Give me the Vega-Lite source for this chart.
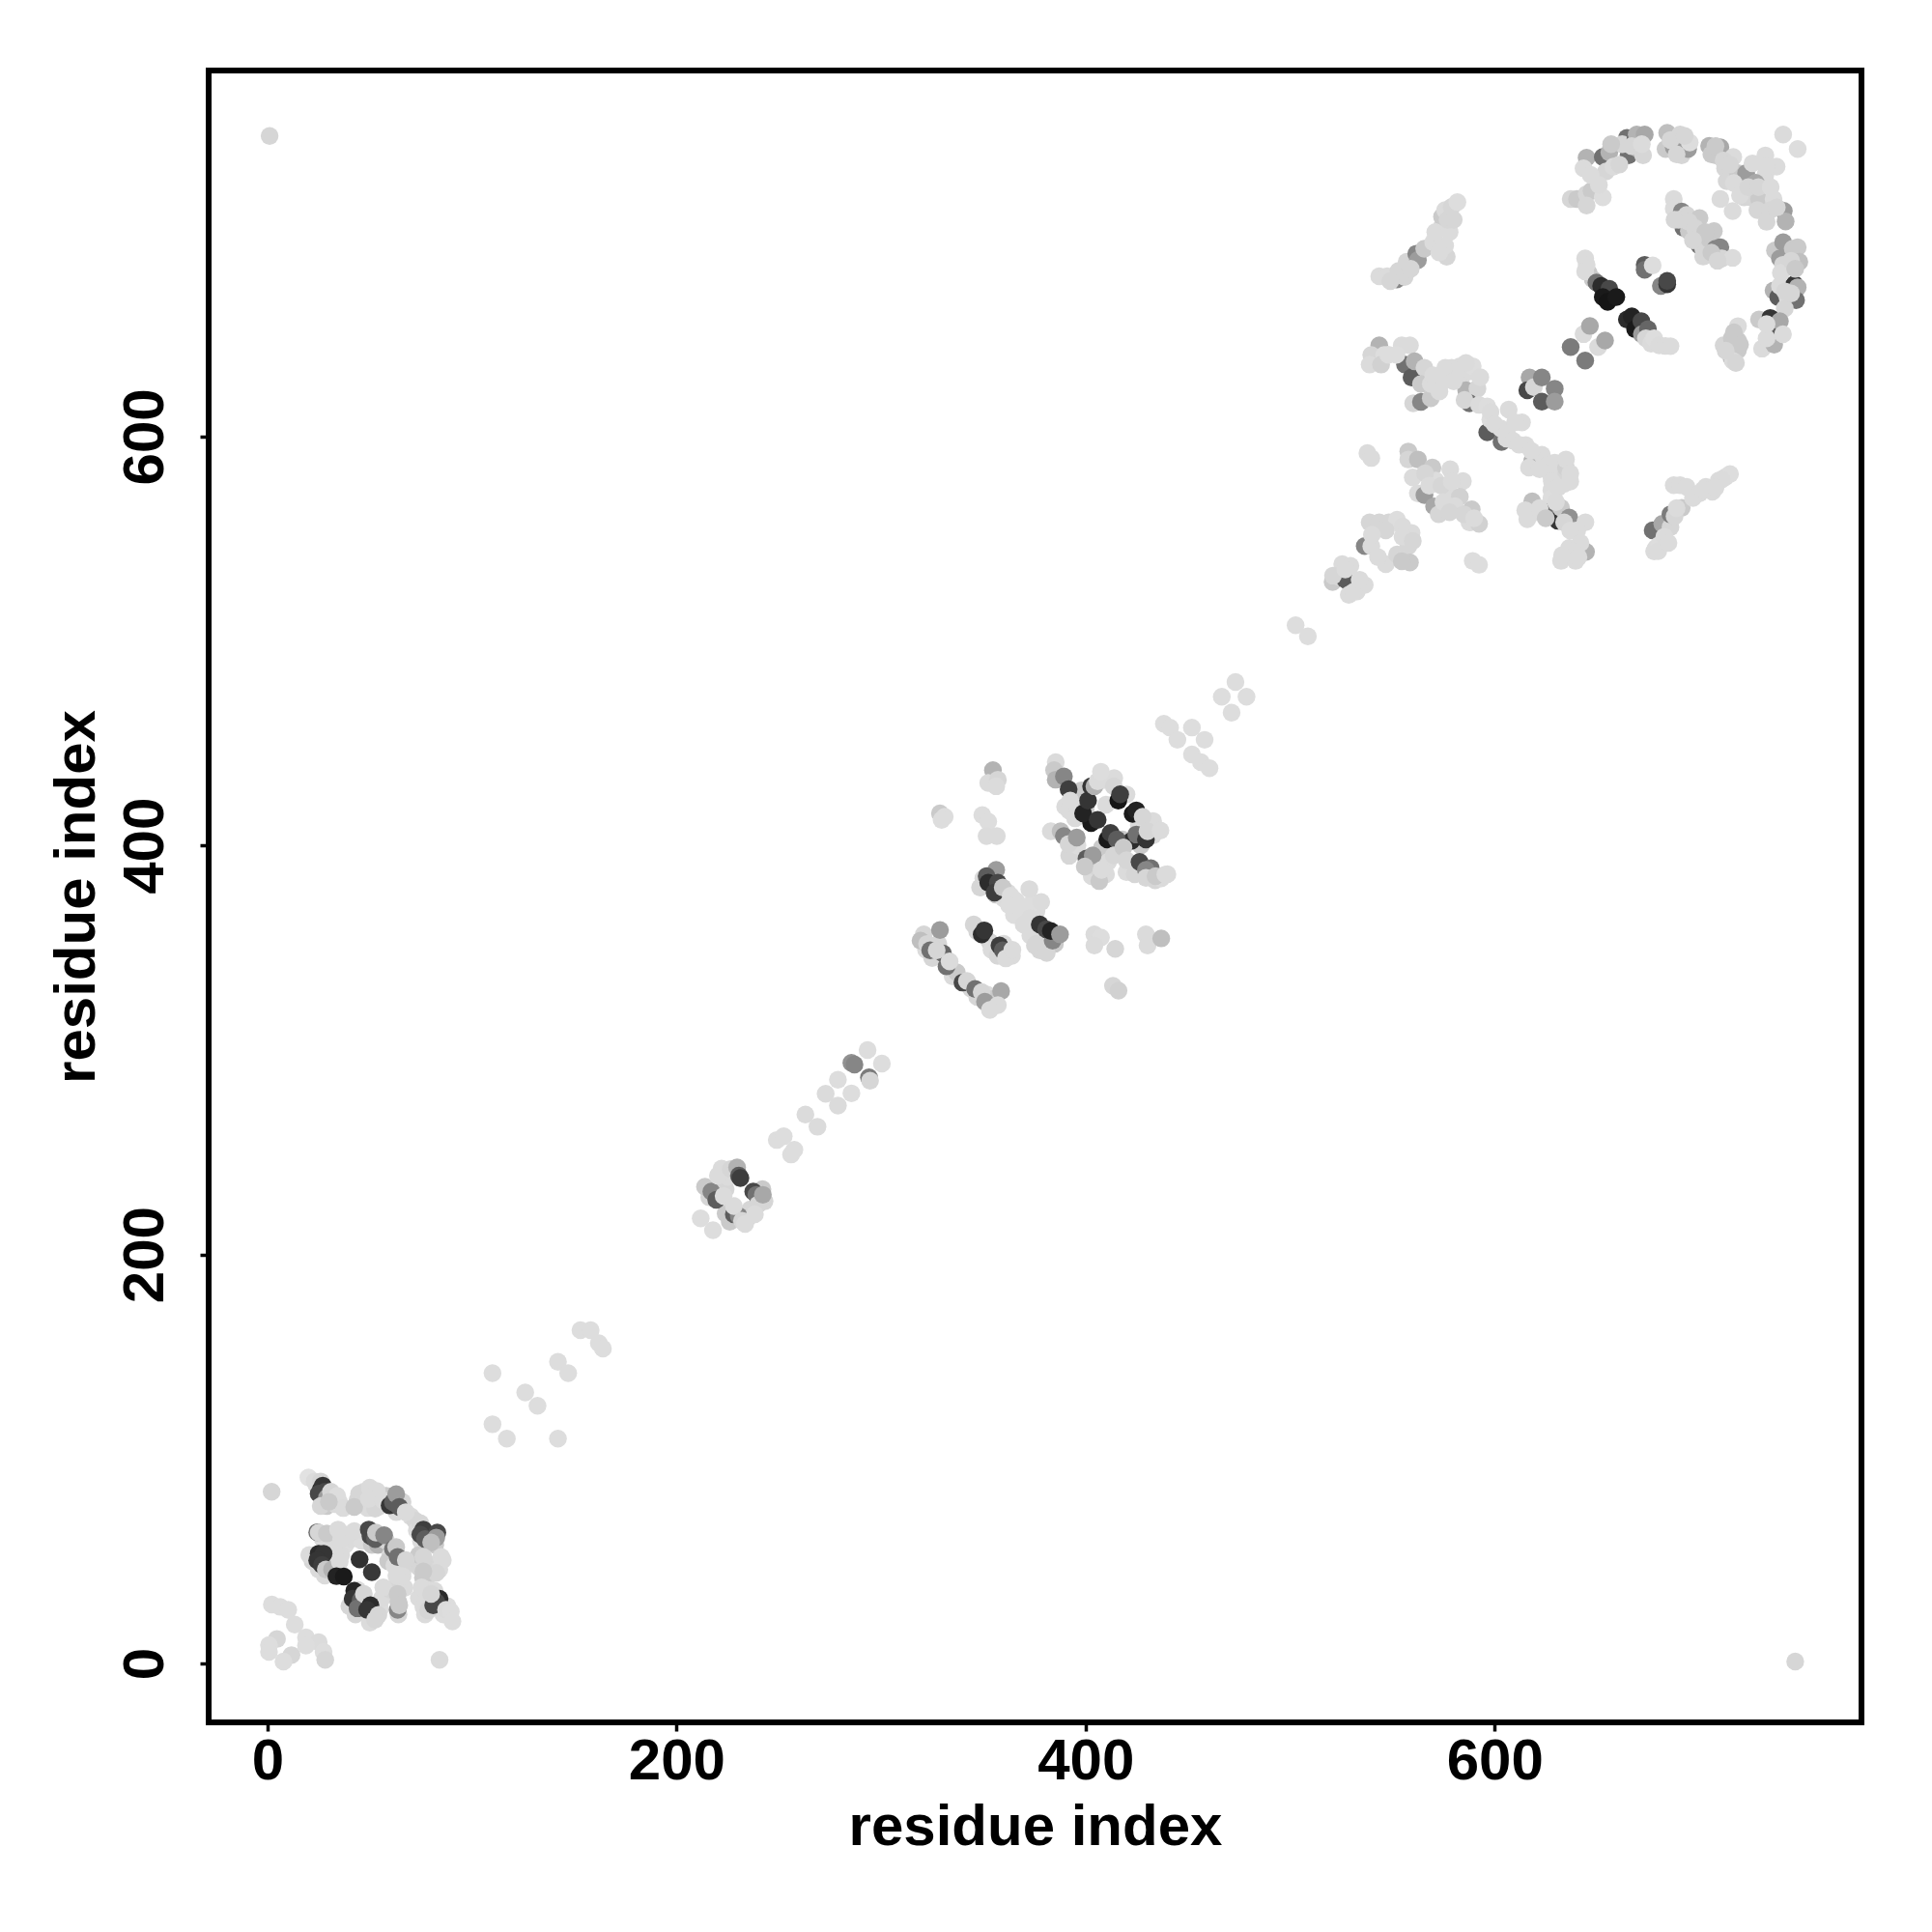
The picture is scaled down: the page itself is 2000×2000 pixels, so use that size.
{"$schema":"https://vega.github.io/schema/vega-lite/v6.json","autosize":{"type":"none"},"padding":{"left":216,"top":73,"right":73,"bottom":217},"width":1711,"height":1710,"background":"white","config":{"view":{"stroke":"#000000","strokeWidth":6},"font":"Liberation Sans"},
"data":{"values":[
{"x":24,"y":87,"p":0.03},{"x":28,"y":85,"p":0.05},{"x":30,"y":84,"p":0.1},{"x":27,"y":80,"p":0.1},{"x":29,"y":77,"p":0.1},{"x":32,"y":80,"p":0.03},{"x":33,"y":78,"p":0.03},{"x":35,"y":79,"p":0.02},
{"x":46,"y":79,"p":0.1},{"x":44,"y":80,"p":0.05},{"x":47,"y":84,"p":0.03},{"x":52,"y":80,"p":0.03},{"x":49,"y":76,"p":0.03},{"x":55,"y":77,"p":0.03},{"x":58,"y":82,"p":0.1},{"x":61,"y":77,"p":0.1},{"x":66,"y":79,"p":0.05},{"x":63,"y":74,"p":0.03},{"x":70,"y":72,"p":0.03},{"x":72,"y":70,"p":0.05},
{"x":73,"y":65,"p":0.03},{"x":75,"y":60,"p":0.03},{"x":78,"y":63,"p":0.1},{"x":79,"y":61,"p":0.05},{"x":76,"y":57,"p":0.03},{"x":82,"y":58,"p":0.1},
{"x":27,"y":61,"p":0.03},{"x":32,"y":58,"p":0.03},{"x":35,"y":62,"p":0.03},{"x":38,"y":58,"p":0.02},{"x":41,"y":61,"p":0.03},{"x":47,"y":64,"p":0.03},{"x":46,"y":60,"p":0.02},{"x":51,"y":58,"p":0.1},{"x":54,"y":58,"p":0.2},{"x":58,"y":60,"p":0.05},{"x":60,"y":53,"p":0.05},{"x":59,"y":50,"p":0.1},{"x":65,"y":47,"p":0.03},{"x":66,"y":45,"p":0.05},{"x":62,"y":48,"p":0.03},
{"x":22,"y":50,"p":0.05},{"x":25,"y":46,"p":0.03},{"x":28,"y":43,"p":0.03},{"x":30,"y":50,"p":0.03},{"x":33,"y":47,"p":0.02},{"x":36,"y":53,"p":0.03},{"x":44,"y":36,"p":0.03},{"x":40,"y":28,"p":0.05},{"x":43,"y":24,"p":0.05},{"x":47,"y":29,"p":0.05},{"x":51,"y":25,"p":0.03},{"x":55,"y":27,"p":0.02},{"x":50,"y":20,"p":0.03},{"x":56,"y":32,"p":0.03},{"x":60,"y":36,"p":0.05},{"x":67,"y":37,"p":0.03},{"x":64,"y":30,"p":0.1},{"x":64,"y":24,"p":0.05},
{"x":74,"y":47,"p":0.05},{"x":78,"y":49,"p":0.05},{"x":80,"y":44,"p":0.05},{"x":84,"y":46,"p":0.03},{"x":76,"y":42,"p":0.1},{"x":74,"y":32,"p":0.03},{"x":78,"y":36,"p":0.03},{"x":80,"y":30,"p":0.05},{"x":77,"y":24,"p":0.03},{"x":86,"y":24,"p":0.02},{"x":88,"y":28,"p":0.02},{"x":74,"y":53,"p":0.1},
{"x":221,"y":232,"p":0.1},{"x":216,"y":228,"p":0.05},{"x":224,"y":232,"p":0.05},{"x":225,"y":238,"p":0.03},{"x":222,"y":242,"p":0.03},{"x":236,"y":222,"p":0.05},{"x":243,"y":226,"p":0.05},{"x":235,"y":218,"p":0.05},{"x":226,"y":216,"p":0.1},{"x":224,"y":220,"p":0.1},{"x":242,"y":232,"p":0.1},
{"x":322,"y":349,"p":0.03},{"x":325,"y":345,"p":0.05},{"x":328,"y":352,"p":0.05},{"x":335,"y":336,"p":0.03},{"x":337,"y":338,"p":0.1},{"x":344,"y":330,"p":0.05},{"x":347,"y":326,"p":0.05},{"x":352,"y":327,"p":0.03},{"x":355,"y":325,"p":0.1},
{"x":347,"y":358,"p":0.05},{"x":353,"y":353,"p":0.05},{"x":354,"y":349,"p":0.03},{"x":357,"y":346,"p":0.05},{"x":360,"y":352,"p":0.03},{"x":364,"y":346,"p":0.03},
{"x":350,"y":384,"p":0.03},{"x":354,"y":383,"p":0.1},{"x":356,"y":376,"p":0.1},{"x":360,"y":374,"p":0.03},{"x":362,"y":377,"p":0.03},{"x":366,"y":373,"p":0.02},{"x":367,"y":368,"p":0.02},{"x":365,"y":366,"p":0.02},{"x":376,"y":368,"p":0.03},{"x":370,"y":370,"p":0.02},{"x":374,"y":372,"p":0.02},{"x":378,"y":356,"p":0.03},{"x":381,"y":353,"p":0.03},{"x":385,"y":352,"p":0.1},{"x":373,"y":356,"p":0.03},{"x":376,"y":352,"p":0.05},
{"x":390,"y":419,"p":0.03},{"x":392,"y":417,"p":0.03},{"x":398,"y":427,"p":0.1},{"x":400,"y":418,"p":0.1},{"x":410,"y":420,"p":0.03},{"x":409,"y":432,"p":0.03},{"x":414,"y":433,"p":0.03},{"x":420,"y":425,"p":0.03},{"x":426,"y":410,"p":0.03},{"x":433,"y":412,"p":0.03},{"x":433,"y":405,"p":0.03},{"x":427,"y":400,"p":0.1},{"x":418,"y":403,"p":0.1},{"x":416,"y":397,"p":0.03},{"x":408,"y":399,"p":0.1},{"x":411,"y":392,"p":0.03},{"x":420,"y":387,"p":0.03},{"x":424,"y":386,"p":0.05},{"x":392,"y":395,"p":0.05},{"x":396,"y":400,"p":0.03},{"x":403,"y":385,"p":0.03},{"x":404,"y":390,"p":0.05},{"x":410,"y":386,"p":0.03},{"x":434,"y":383,"p":0.05},{"x":437,"y":384,"p":0.03},{"x":440,"y":386,"p":0.03},
{"x":1,"y":747,"p":0.05},{"x":747,"y":1,"p":0.05},{"x":2,"y":84,"p":0.05},
{"x":20,"y":91,"p":0},{"x":23,"y":89,"p":0.03},{"x":26,"y":89,"p":0.05},{"x":26,"y":85,"p":0.85},{"x":27,"y":87,"p":0.8},{"x":25,"y":83,"p":0.7},{"x":28,"y":84,"p":0.7},{"x":29,"y":81,"p":0.3},{"x":26,"y":77,"p":0.05},{"x":31,"y":84,"p":0.05},{"x":34,"y":82,"p":0.02},{"x":37,"y":76,"p":0.03},{"x":30,"y":79,"p":0.1},
{"x":44.8,"y":83,"p":0.05},{"x":42.4,"y":76.5,"p":0.1},{"x":50,"y":86,"p":0.03},{"x":53.4,"y":84.4,"p":0.03},{"x":52.6,"y":75.7,"p":0.05},{"x":49.5,"y":80.5,"p":0.03},{"x":56.6,"y":79.7,"p":0.03},
{"x":59.7,"y":77.3,"p":0.8},{"x":61.3,"y":78.9,"p":0.6},{"x":62.9,"y":82.8,"p":0.3},{"x":64.4,"y":76.5,"p":0.6},{"x":67.6,"y":74,"p":0.03},{"x":74.7,"y":68.6,"p":0.05},
{"x":76.2,"y":65.5,"p":0.75},{"x":74.7,"y":63.1,"p":0.7},{"x":77,"y":60.8,"p":0.6},{"x":83,"y":64,"p":0.7},{"x":82.5,"y":61.6,"p":0.3},{"x":80,"y":59.2,"p":0.15},
{"x":24.3,"y":64.2,"p":0.5},{"x":25,"y":64,"p":0.05},{"x":29,"y":63.6,"p":0.1},{"x":36,"y":60.8,"p":0.03},{"x":42.4,"y":64.7,"p":0.03},{"x":39.2,"y":63,"p":0.03},{"x":34.5,"y":65.5,"p":0.03},
{"x":49.5,"y":65.5,"p":0.7},{"x":50.3,"y":62.4,"p":0.7},{"x":52.6,"y":60.8,"p":0.6},{"x":53,"y":64,"p":0.1},{"x":57,"y":62.7,"p":0.4},{"x":61.3,"y":56,"p":0.5},{"x":62.9,"y":56.9,"p":0.1},{"x":63.6,"y":52.1,"p":0.5},{"x":67.6,"y":50.6,"p":0.05},
{"x":20.4,"y":53,"p":0.03},{"x":25,"y":53.7,"p":0.85},{"x":27.4,"y":53.7,"p":0.8},{"x":24.3,"y":50.5,"p":0.8},{"x":26.6,"y":48.2,"p":0.75},{"x":28.5,"y":46,"p":0.1},{"x":31.5,"y":46,"p":0.2},{"x":35.3,"y":49.8,"p":0.03},{"x":33.7,"y":42.7,"p":0.9},{"x":37.3,"y":42.5,"p":0.95},{"x":45,"y":50.9,"p":0.82},{"x":51,"y":44.7,"p":0.78},
{"x":42.4,"y":35.6,"p":0.9},{"x":41.6,"y":31.7,"p":0.8},{"x":45.5,"y":30.9,"p":0.6},{"x":44,"y":27,"p":0.5},{"x":47.1,"y":34,"p":0.05},{"x":50.3,"y":28.5,"p":0.85},{"x":48.7,"y":26.2,"p":0.8},{"x":54.2,"y":23.8,"p":0.05},{"x":52.6,"y":21.4,"p":0.05},
{"x":56.6,"y":37.2,"p":0.03},{"x":63.6,"y":26.2,"p":0.4},{"x":63.6,"y":34,"p":0.1},{"x":64.4,"y":28.5,"p":0.1},{"x":66,"y":42.7,"p":0.03},{"x":63,"y":43,"p":0.03},
{"x":76.2,"y":52.1,"p":0.05},{"x":84.9,"y":52.1,"p":0.03},{"x":85.7,"y":50.6,"p":0.03},{"x":82.5,"y":44.3,"p":0.05},{"x":76.2,"y":45,"p":0.1},{"x":75.4,"y":37.2,"p":0.03},{"x":81.7,"y":35.6,"p":0.03},{"x":76.2,"y":27.7,"p":0.03},{"x":78.5,"y":26,"p":0.05},
{"x":84.1,"y":31.7,"p":0.85},{"x":82.5,"y":30.1,"p":0.7},{"x":81,"y":28.5,"p":0.7},{"x":80,"y":34,"p":0.05},{"x":87.3,"y":26.2,"p":0.03},{"x":89.6,"y":25.4,"p":0.02},{"x":90.4,"y":20.6,"p":0.02},
{"x":2.1,"y":28.8,"p":0.02},{"x":6.2,"y":27.7,"p":0.02},{"x":10.1,"y":26.2,"p":0.02},{"x":13.3,"y":19,"p":0.02},{"x":18.8,"y":12.8,"p":0.02},{"x":25,"y":10.4,"p":0.03},{"x":4.6,"y":12,"p":0.05},{"x":0.7,"y":9,"p":0.02},{"x":0.7,"y":5.7,"p":0.02},{"x":11.7,"y":4.1,"p":0.05},{"x":7.8,"y":1,"p":0.02},{"x":27.4,"y":5.7,"p":0.02},{"x":28.2,"y":1.8,"p":0.05},{"x":18.8,"y":8.8,"p":0.02},{"x":84.1,"y":1.8,"p":0.03},
{"x":110,"y":142,"p":0.02},{"x":110,"y":117,"p":0.02},{"x":117,"y":110,"p":0.02},{"x":126,"y":132.5,"p":0.02},{"x":132,"y":126,"p":0.02},{"x":142,"y":147.5,"p":0.02},{"x":147,"y":142,"p":0.02},{"x":142,"y":110,"p":0.02},{"x":153,"y":163,"p":0.02},{"x":158,"y":163,"p":0.02},{"x":162,"y":156.6,"p":0.02},{"x":164,"y":154,"p":0.02},
{"x":211.8,"y":217.7,"p":0.02},{"x":217.8,"y":211.9,"p":0.02},{"x":213.9,"y":233.1,"p":0.1},{"x":217,"y":230.8,"p":0.4},{"x":219.4,"y":226.8,"p":0.6},{"x":220.2,"y":238.6,"p":0.03},{"x":223,"y":228.7,"p":0.03},{"x":226.5,"y":241.8,"p":0.05},{"x":229.6,"y":242.6,"p":0.2},{"x":230.5,"y":238.6,"p":0.6},{"x":231.2,"y":237.4,"p":0.75},{"x":237.5,"y":230.8,"p":0.7},{"x":239,"y":229.2,"p":0.5},{"x":239.8,"y":224.4,"p":0.05},{"x":242.2,"y":229.2,"p":0.25},{"x":228,"y":219.7,"p":0.6},{"x":230.4,"y":218.9,"p":0.4},{"x":228,"y":223.7,"p":0.03},{"x":232,"y":216.5,"p":0.05},{"x":233.5,"y":215,"p":0.03},{"x":238.3,"y":219.7,"p":0.03},
{"x":249,"y":256,"p":0.02},{"x":252.4,"y":257.8,"p":0.02},{"x":256,"y":248.9,"p":0.02},{"x":257.6,"y":251.2,"p":0.02},{"x":263,"y":268.5,"p":0.03},{"x":268.9,"y":262.5,"p":0.03},{"x":272.9,"y":278.6,"p":0.03},{"x":278.9,"y":272.8,"p":0.03},{"x":278.9,"y":285.5,"p":0.02},{"x":285.5,"y":278.8,"p":0.02},{"x":285.5,"y":293.7,"p":0.35},{"x":287,"y":292.9,"p":0.4},{"x":293.4,"y":300,"p":0.02},{"x":300.4,"y":293.4,"p":0.02},{"x":294.1,"y":286.6,"p":0.45},{"x":294.6,"y":285,"p":0.05},
{"x":320.9,"y":356.6,"p":0.05},{"x":328.8,"y":358.7,"p":0.3},{"x":319.3,"y":353.5,"p":0.15},{"x":322.5,"y":351.9,"p":0.05},{"x":324,"y":348.8,"p":0.5},{"x":330.3,"y":347.2,"p":0.55},{"x":327.2,"y":348.8,"p":0.05},{"x":332,"y":340.9,"p":0.5},{"x":333.5,"y":343.3,"p":0.03},{"x":339.8,"y":333,"p":0.7},{"x":342,"y":333.8,"p":0.05},{"x":346,"y":329.9,"p":0.5},{"x":349.2,"y":328.3,"p":0.05},{"x":350.8,"y":323.6,"p":0.3},{"x":358.7,"y":328.8,"p":0.25},{"x":357.1,"y":322,"p":0.03},{"x":353.2,"y":319.6,"p":0.03},
{"x":345.3,"y":361.4,"p":0.05},{"x":349.2,"y":356.6,"p":0.85},{"x":350.5,"y":358.5,"p":0.8},{"x":357.9,"y":351.1,"p":0.75},{"x":359.5,"y":348.8,"p":0.6},{"x":361,"y":344.8,"p":0.03},{"x":364.2,"y":349,"p":0.03},
{"x":348.4,"y":379.5,"p":0.05},{"x":356.3,"y":388.1,"p":0.3},{"x":351.6,"y":385,"p":0.6},{"x":352.4,"y":381.8,"p":0.85},{"x":357.1,"y":381.8,"p":0.7},{"x":355.5,"y":377,"p":0.75},{"x":359.5,"y":379.5,"p":0.1},{"x":363.4,"y":375.5,"p":0.02},{"x":362.6,"y":370.8,"p":0.02},{"x":372.5,"y":378.7,"p":0.03},{"x":378.3,"y":372.4,"p":0.03},{"x":372.8,"y":364.5,"p":0.03},{"x":369.7,"y":361.4,"p":0.03},
{"x":377.6,"y":348.8,"p":0.05},{"x":375.2,"y":351.1,"p":0.05},{"x":381,"y":347.5,"p":0.05},{"x":377.6,"y":361.4,"p":0.8},{"x":380.7,"y":359,"p":0.7},{"x":383.9,"y":353.5,"p":0.4},{"x":383,"y":358.2,"p":0.9},{"x":387.5,"y":356.6,"p":0.3},
{"x":354.7,"y":436.9,"p":0.2},{"x":352.4,"y":430.6,"p":0.03},{"x":357.1,"y":432.2,"p":0.05},{"x":356.3,"y":429,"p":0.03},{"x":328.8,"y":415.7,"p":0.1},{"x":331.1,"y":414.1,"p":0.02},{"x":329.6,"y":412.5,"p":0.02},{"x":349.5,"y":414.9,"p":0.02},{"x":352.4,"y":411.7,"p":0.02},{"x":351.6,"y":404.6,"p":0.03},{"x":356.6,"y":404.6,"p":0.03},
{"x":385.4,"y":440.8,"p":0.03},{"x":384.6,"y":436.9,"p":0.1},{"x":385.4,"y":432.2,"p":0.2},{"x":389.4,"y":433.8,"p":0.4},{"x":391.7,"y":427.5,"p":0.75},{"x":392.5,"y":422,"p":0.03},{"x":394.9,"y":413.3,"p":0.03},
{"x":402.7,"y":411,"p":0.95},{"x":398.8,"y":415.7,"p":0.9},{"x":401.2,"y":422,"p":0.8},{"x":405.9,"y":412.5,"p":0.8},{"x":402.7,"y":429,"p":0.8},{"x":404.3,"y":429,"p":0.2},{"x":405.9,"y":431.4,"p":0.03},{"x":407.5,"y":436.1,"p":0.02},
{"x":413.8,"y":429,"p":0.05},{"x":416,"y":422,"p":0.98},{"x":416.9,"y":425.1,"p":0.75},{"x":423,"y":415.5,"p":0.95},{"x":424.8,"y":417.2,"p":0.9},{"x":427.9,"y":414.1,"p":0.05},{"x":422.4,"y":402.3,"p":0.85},{"x":424.8,"y":405.4,"p":0.5},{"x":429.5,"y":403,"p":0.8},{"x":430.3,"y":407,"p":0.05},{"x":436.6,"y":407.3,"p":0.03},
{"x":410.6,"y":403,"p":0.95},{"x":412.2,"y":406.2,"p":0.75},{"x":415.3,"y":403,"p":0.6},{"x":413.8,"y":395.2,"p":0.05},{"x":418.5,"y":399.1,"p":0.1},{"x":420,"y":392.8,"p":0.05},
{"x":383,"y":407,"p":0.03},{"x":387.8,"y":407,"p":0.15},{"x":389.4,"y":404.6,"p":0.4},{"x":391.7,"y":400.7,"p":0.05},{"x":395.7,"y":403.9,"p":0.3},{"x":400.4,"y":393.6,"p":0.6},{"x":403.5,"y":395.2,"p":0.3},{"x":399.6,"y":389.7,"p":0.1},{"x":406.7,"y":382.6,"p":0.1},{"x":407.8,"y":388.1,"p":0.03},
{"x":426.4,"y":392,"p":0.7},{"x":431.9,"y":388.9,"p":0.5},{"x":429.5,"y":388.1,"p":0.4},{"x":429.5,"y":384.2,"p":0.05},{"x":434.2,"y":385,"p":0.1},{"x":439,"y":385.8,"p":0.03},
{"x":404.3,"y":356.6,"p":0.03},{"x":407.5,"y":355,"p":0.02},{"x":404.3,"y":351.1,"p":0.03},{"x":414.5,"y":349.5,"p":0.05},{"x":429.5,"y":356.6,"p":0.03},{"x":430.3,"y":351.1,"p":0.03},{"x":437,"y":354.6,"p":0.15},{"x":413.4,"y":331.4,"p":0.05},{"x":416.1,"y":329,"p":0.07},
{"x":438.3,"y":459.5,"p":0.02},{"x":441.3,"y":457.7,"p":0.02},{"x":452,"y":457.7,"p":0.02},{"x":444.9,"y":451.7,"p":0.02},{"x":458.2,"y":451.7,"p":0.02},{"x":452,"y":444.5,"p":0.02},{"x":456.4,"y":440.8,"p":0.02},{"x":460.6,"y":437.8,"p":0.02},{"x":466.6,"y":472.8,"p":0.02},{"x":473.3,"y":480,"p":0.02},{"x":471.4,"y":465,"p":0.02},{"x":478.7,"y":472.8,"p":0.02},{"x":502.7,"y":507.7,"p":0.02},{"x":508.7,"y":502.3,"p":0.02},
{"x":520.8,"y":528.9,"p":0.1},{"x":525.5,"y":537.6,"p":0.03},{"x":529.5,"y":536.8,"p":0.03},{"x":524,"y":531.3,"p":0.05},{"x":527,"y":530,"p":0.6},{"x":532.6,"y":528.2,"p":0.6},{"x":536.5,"y":527.4,"p":0.03},{"x":528.7,"y":522.6,"p":0.03},{"x":532.6,"y":524.2,"p":0.03},
{"x":538.9,"y":558,"p":0.05},{"x":543.6,"y":558,"p":0.05},{"x":548.3,"y":558,"p":0.05},{"x":552.3,"y":559.3,"p":0.02},{"x":536.5,"y":546.5,"p":0.4},{"x":539.7,"y":546.3,"p":0.03},{"x":559.4,"y":552.9,"p":0.03},{"x":546.8,"y":554.1,"p":0.05},{"x":557.8,"y":546.3,"p":0.05},{"x":558.6,"y":538.4,"p":0.1},{"x":546.8,"y":537.6,"p":0.03},{"x":552.3,"y":542.3,"p":0.05},{"x":554.6,"y":539,"p":0.1},
{"x":589.3,"y":539.2,"p":0.02},{"x":592.4,"y":537.3,"p":0.02},{"x":537.8,"y":591.9,"p":0.03},{"x":539.7,"y":589.5,"p":0.03},
{"x":557.8,"y":592.7,"p":0.1},{"x":557.8,"y":588.8,"p":0.05},{"x":562.5,"y":588.8,"p":0.15},{"x":569.6,"y":584.8,"p":0.1},{"x":578.3,"y":584,"p":0.03},{"x":584.5,"y":578.2,"p":0.03},{"x":571.2,"y":578.5,"p":0.02},{"x":562.5,"y":572.2,"p":0.03},{"x":565.7,"y":571.4,"p":0.3},{"x":570.4,"y":565.9,"p":0.25},{"x":577.5,"y":572.2,"p":0.03},{"x":583,"y":570.6,"p":0.07},{"x":572.7,"y":562,"p":0.05},{"x":580.5,"y":566,"p":0.03},{"x":588.8,"y":564.4,"p":0.1},{"x":587.7,"y":558,"p":0.03},{"x":592.4,"y":557.3,"p":0.07},
{"x":543.6,"y":644.6,"p":0.2},{"x":539.7,"y":639.9,"p":0.05},{"x":546,"y":639.9,"p":0.02},{"x":538.9,"y":635.2,"p":0.03},{"x":544.5,"y":635.2,"p":0.07},{"x":554.6,"y":644.6,"p":0.03},{"x":558.6,"y":644.6,"p":0.03},
{"x":556.2,"y":635.2,"p":0.5},{"x":559.4,"y":628.9,"p":0.6},{"x":560.9,"y":636.8,"p":0.2},{"x":565.7,"y":633.6,"p":0.05},{"x":564,"y":625.7,"p":0.1},{"x":560.2,"y":616.3,"p":0.05},{"x":564,"y":617,"p":0.4},{"x":568.8,"y":618.7,"p":0.1},{"x":568.8,"y":625.7,"p":0.03},
{"x":575.9,"y":633.6,"p":0.03},{"x":579,"y":633.6,"p":0.03},{"x":583,"y":634.4,"p":0.03},{"x":575.1,"y":627.3,"p":0.03},{"x":583.8,"y":628.9,"p":0.03},{"x":588.5,"y":632,"p":0.03},{"x":589.3,"y":634.4,"p":0.02},{"x":586.1,"y":622.6,"p":0.2},{"x":591.6,"y":623.4,"p":0.05},{"x":587.7,"y":616.3,"p":0.5},{"x":585.3,"y":617.9,"p":0.05},{"x":592.4,"y":615.5,"p":0.03},{"x":596.4,"y":614.7,"p":0.02},{"x":606.9,"y":613.2,"p":0.03},{"x":613.4,"y":606.9,"p":0.03},{"x":596.4,"y":602.1,"p":0.6},{"x":597.9,"y":608.4,"p":0.02},{"x":603.4,"y":597.4,"p":0.5},{"x":605.8,"y":599,"p":0.03},{"x":615.2,"y":595.8,"p":0.03},{"x":618.4,"y":588,"p":0.2},{"x":616.8,"y":584.8,"p":0.03},{"x":623.1,"y":591.1,"p":0.03},
{"x":629.4,"y":587.2,"p":0.03},{"x":627.8,"y":580.1,"p":0.03},{"x":627.8,"y":573.8,"p":0.03},{"x":634.1,"y":576.9,"p":0.03},{"x":634.9,"y":580.9,"p":0.05},{"x":634.9,"y":584.8,"p":0.07},{"x":634.9,"y":588.8,"p":0.03},{"x":627.8,"y":569.9,"p":0.02},
{"x":618.4,"y":568.3,"p":0.15},{"x":616,"y":559.6,"p":0.03},{"x":619.2,"y":562.8,"p":0.03},{"x":627.8,"y":563.6,"p":0.5},{"x":631,"y":558.8,"p":0.8},{"x":632.5,"y":565.1,"p":0.1},{"x":636.5,"y":560.4,"p":0.35},{"x":644.4,"y":558.1,"p":0.03},{"x":640.4,"y":554.1,"p":0.03},{"x":636.5,"y":545.5,"p":0.03},{"x":644.7,"y":543.6,"p":0.2},{"x":632.5,"y":539.2,"p":0.03},{"x":639.6,"y":539.2,"p":0.03},
{"x":617.1,"y":628.9,"p":0.25},{"x":616,"y":622.6,"p":0.7},{"x":619.2,"y":624.2,"p":0.05},{"x":623.1,"y":628.9,"p":0.4},{"x":629.4,"y":623.4,"p":0.4},{"x":623.1,"y":617.1,"p":0.6},{"x":629.4,"y":617.1,"p":0.3},
{"x":637.2,"y":643.8,"p":0.45},{"x":644.3,"y":637.2,"p":0.45},{"x":643.5,"y":650.1,"p":0.03},{"x":646.6,"y":654.1,"p":0.25},{"x":650.6,"y":643.8,"p":0.03},{"x":654,"y":647,"p":0.25},
{"x":646,"y":680,"p":0.1},{"x":648,"y":677,"p":0.1},{"x":644.3,"y":687.1,"p":0.03},{"x":645,"y":684,"p":0.03},{"x":644.3,"y":680.8,"p":0.03},{"x":649.8,"y":675.3,"p":0.5},{"x":652.1,"y":673.7,"p":0.85},{"x":656.1,"y":672.2,"p":0.7},{"x":652.9,"y":668.2,"p":0.95},{"x":655.3,"y":665.9,"p":0.98},{"x":659.5,"y":668.2,"p":0.95},{"x":664.7,"y":657.2,"p":0.85},{"x":667.1,"y":658.8,"p":0.9},{"x":668.7,"y":652.5,"p":0.95},{"x":671.8,"y":656.4,"p":0.7},{"x":672,"y":650,"p":0.3},{"x":675,"y":652.5,"p":0.55},{"x":674,"y":648,"p":0.05},{"x":676.5,"y":645.4,"p":0.03},{"x":678,"y":648,"p":0.02},{"x":680.5,"y":644.6,"p":0.03},{"x":683.5,"y":644.3,"p":0.03},{"x":686,"y":644.2,"p":0.03},
{"x":673.4,"y":684,"p":0.6},{"x":673.4,"y":681.6,"p":0.5},{"x":677.3,"y":683.7,"p":0.02},{"x":681.3,"y":673.7,"p":0.4},{"x":684.4,"y":674.5,"p":0.8},{"x":684.4,"y":676.1,"p":0.7},
{"x":645,"y":736.4,"p":0.2},{"x":643.5,"y":731.2,"p":0.03},{"x":637.2,"y":716.2,"p":0.05},{"x":640.3,"y":716.2,"p":0.1},{"x":645,"y":718.6,"p":0.05},{"x":647.4,"y":720.2,"p":0.1},{"x":645,"y":713,"p":0.05},{"x":652.9,"y":717,"p":0.02},
{"x":652.9,"y":736.7,"p":0.5},{"x":656.1,"y":739,"p":0.2},{"x":654.5,"y":729.6,"p":0.05},{"x":658.1,"y":732,"p":0.03},{"x":664.7,"y":746.1,"p":0.5},{"x":665.5,"y":737.5,"p":0.5},{"x":662.4,"y":743,"p":0.05},{"x":668.7,"y":744.6,"p":0.6},{"x":669.5,"y":747.7,"p":0.2},{"x":670.2,"y":740.6,"p":0.2},{"x":672.6,"y":737.5,"p":0.05},{"x":673.4,"y":747.7,"p":0.25},
{"x":684.4,"y":748.5,"p":0.15},{"x":683.6,"y":740.6,"p":0.1},{"x":687.6,"y":741.4,"p":0.3},{"x":690.7,"y":747.7,"p":0.05},{"x":691.5,"y":737.5,"p":0.05},{"x":694.6,"y":740.6,"p":0.3},{"x":695.4,"y":743.8,"p":0.02},
{"x":704.9,"y":742.2,"p":0.2},{"x":710.4,"y":741.4,"p":0.25},{"x":708,"y":737.5,"p":0.1},{"x":716.7,"y":736.7,"p":0.03},{"x":712.7,"y":731.2,"p":0.05},{"x":713.5,"y":724.9,"p":0.05},{"x":719,"y":728.8,"p":0.1},{"x":723,"y":728.8,"p":0.3},{"x":726.1,"y":733.6,"p":0.03},{"x":732.4,"y":737.5,"p":0.03},{"x":737.9,"y":732,"p":0.03},{"x":732.4,"y":728,"p":0.03},{"x":727.7,"y":724.1,"p":0.25},{"x":741.1,"y":747.7,"p":0.03},{"x":748.2,"y":740.6,"p":0.02},
{"x":725.3,"y":717,"p":0.05},{"x":722,"y":717,"p":0.05},{"x":729.3,"y":716.2,"p":0.1},{"x":736.4,"y":716.2,"p":0.03},{"x":728.5,"y":710.7,"p":0.05},{"x":734.8,"y":710.7,"p":0.05},{"x":741.4,"y":710.4,"p":0.3},{"x":742.3,"y":705.2,"p":0.2},{"x":710.4,"y":716.2,"p":0.03},{"x":716.4,"y":710.3,"p":0.03},
{"x":687.6,"y":716.2,"p":0.03},{"x":687.6,"y":711.5,"p":0.03},{"x":691.5,"y":710,"p":0.4},{"x":692.3,"y":702.1,"p":0.5},{"x":693.9,"y":708.4,"p":0.05},{"x":695,"y":700.5,"p":0.1},{"x":700.2,"y":706.8,"p":0.1},{"x":700.2,"y":693.4,"p":0.5},{"x":702,"y":692,"p":0.05},{"x":704.9,"y":696.6,"p":0.1},{"x":707.2,"y":700.5,"p":0.1},{"x":708,"y":691.8,"p":0.4},{"x":710.4,"y":692.6,"p":0.4},{"x":711.2,"y":687.1,"p":0.05},{"x":716.4,"y":687.4,"p":0.03},
{"x":737.1,"y":691,"p":0.1},{"x":741.1,"y":695,"p":0.3},{"x":739.5,"y":687.1,"p":0.3},{"x":741,"y":684,"p":0.05},{"x":745.8,"y":691.8,"p":0.1},{"x":748.2,"y":692.6,"p":0.1},{"x":749,"y":685.5,"p":0.15},
{"x":736.4,"y":671.4,"p":0.2},{"x":738.7,"y":668.2,"p":0.6},{"x":739.5,"y":673.7,"p":0.03},{"x":743.4,"y":667.4,"p":0.03},{"x":746.6,"y":674.5,"p":0.8},{"x":748.2,"y":673,"p":0.2},{"x":747.4,"y":666.7,"p":0.5},{"x":741.9,"y":662.7,"p":0.05},{"x":729.3,"y":657.2,"p":0.1},{"x":734.8,"y":658,"p":0.8},{"x":736.4,"y":652.5,"p":0.6},{"x":739.5,"y":656.4,"p":0.25},{"x":730.8,"y":643,"p":0.03},{"x":736.7,"y":645,"p":0.2},
{"x":715.9,"y":638.3,"p":0.2},{"x":712,"y":644.6,"p":0.05},{"x":715,"y":642,"p":0.15},{"x":719,"y":654,"p":0.03},{"x":719,"y":647,"p":0.1},{"x":719,"y":642.3,"p":0.1},{"x":716.5,"y":637,"p":0.03},
{"x":678,"y":543.9,"p":0.03},{"x":678.9,"y":545.5,"p":0.03},{"x":677.3,"y":554.1,"p":0.5},{"x":682,"y":552.5,"p":0.5},{"x":680.5,"y":547,"p":0.02},{"x":682,"y":557.3,"p":0.25},{"x":686,"y":555.7,"p":0.05},{"x":686,"y":562,"p":0.45},{"x":691.5,"y":565.1,"p":0.1},{"x":687.6,"y":576.2,"p":0.03},{"x":690.7,"y":576.2,"p":0.03},{"x":693.9,"y":575.4,"p":0.03},{"x":700.2,"y":572.2,"p":0.03},{"x":703.3,"y":575.4,"p":0.03},{"x":706.5,"y":573,"p":0.03},{"x":709.6,"y":578.5,"p":0.03},{"x":712.8,"y":580.1,"p":0.03},{"x":715.1,"y":581.7,"p":0.02},
{"x":543.6,"y":678.4,"p":0.03},{"x":547.5,"y":678.4,"p":0.03},{"x":552.2,"y":676.8,"p":0.4},{"x":554.6,"y":679.2,"p":0.1},{"x":557,"y":685.5,"p":0.05},{"x":561.7,"y":689.4,"p":0.4},{"x":562.5,"y":686.3,"p":0.3},{"x":565.6,"y":691.8,"p":0.1},{"x":576.6,"y":687.9,"p":0.05},{"x":575.8,"y":693.4,"p":0.03},{"x":574.3,"y":702.8,"p":0.05},{"x":574.3,"y":707.5,"p":0.1},{"x":575.8,"y":710.7,"p":0.03},{"x":579,"y":712.3,"p":0.05},{"x":581.8,"y":714.6,"p":0.02},
{"x":548,"y":640,"p":0.02},{"x":552,"y":640,"p":0.02},{"x":570,"y":630,"p":0.03},{"x":573,"y":622,"p":0.03},{"x":580,"y":627,"p":0.03},{"x":586,"y":636,"p":0.03},{"x":593,"y":629,"p":0.03},{"x":598,"y":612,"p":0.03},{"x":600,"y":606,"p":0.03},{"x":603,"y":604,"p":0.03},{"x":606,"y":602,"p":0.03},{"x":609,"y":598,"p":0.03},{"x":612,"y":596,"p":0.03},{"x":618,"y":593,"p":0.03},{"x":610,"y":607,"p":0.03},{"x":626,"y":586,"p":0.03},{"x":622,"y":584,"p":0.03},{"x":628,"y":578,"p":0.03},{"x":631,"y":575,"p":0.03},{"x":637,"y":582,"p":0.03},{"x":637,"y":578,"p":0.03},{"x":630,"y":568,"p":0.03},
{"x":521,"y":532,"p":0.05},{"x":527,"y":535,"p":0.03},{"x":531,"y":524,"p":0.03},{"x":534,"y":530,"p":0.03},{"x":540,"y":552,"p":0.03},{"x":543,"y":541,"p":0.03},{"x":555,"y":556,"p":0.03},{"x":555,"y":551,"p":0.03},{"x":560,"y":549,"p":0.05},
{"x":560,"y":580,"p":0.03},{"x":566,"y":582,"p":0.05},{"x":568,"y":576,"p":0.03},{"x":574,"y":576,"p":0.05},{"x":579,"y":578,"p":0.03},{"x":575,"y":568,"p":0.03},{"x":578,"y":563,"p":0.05},{"x":585,"y":562,"p":0.05},{"x":590,"y":560,"p":0.03},
{"x":615,"y":564,"p":0.03},{"x":622,"y":565,"p":0.03},{"x":625,"y":560,"p":0.1},{"x":634,"y":558,"p":0.05},{"x":637,"y":554,"p":0.03},{"x":642,"y":548,"p":0.03},{"x":638,"y":544,"p":0.03},{"x":641,"y":541,"p":0.03},{"x":633,"y":542,"p":0.03},
{"x":647,"y":728,"p":0.03},{"x":651,"y":723,"p":0.03},{"x":657,"y":743,"p":0.1},{"x":661,"y":733,"p":0.05},{"x":667,"y":742,"p":0.05},{"x":672,"y":743,"p":0.03},{"x":686,"y":745,"p":0.05},{"x":689,"y":738,"p":0.05},{"x":693,"y":747,"p":0.05},
{"x":706,"y":738,"p":0.1},{"x":708,"y":742,"p":0.1},{"x":712,"y":735,"p":0.05},{"x":715,"y":733,"p":0.05},{"x":717,"y":724,"p":0.03},{"x":720,"y":718,"p":0.03},{"x":724,"y":722,"p":0.05},{"x":729,"y":722,"p":0.05},{"x":733,"y":732,"p":0.03},{"x":735,"y":722,"p":0.03},{"x":738,"y":712,"p":0.05},{"x":733,"y":705,"p":0.05},
{"x":690,"y":706,"p":0.05},{"x":695,"y":705,"p":0.05},{"x":698,"y":702,"p":0.05},{"x":703,"y":700,"p":0.1},{"x":697,"y":696,"p":0.05},{"x":702,"y":688,"p":0.05},{"x":706,"y":690,"p":0.1},{"x":709,"y":686,"p":0.05},{"x":688,"y":706,"p":0.05},
{"x":740,"y":680,"p":0.03},{"x":745,"y":686,"p":0.05},{"x":747,"y":682,"p":0.1},{"x":741,"y":650,"p":0.03},{"x":733,"y":648,"p":0.03},{"x":742,"y":671,"p":0.05},{"x":745,"y":670,"p":0.05},{"x":733,"y":655,"p":0.03},
{"x":716,"y":648,"p":0.1},{"x":717,"y":651,"p":0.1},{"x":720,"y":645,"p":0.1},{"x":713,"y":642,"p":0.05},{"x":718,"y":636,"p":0.05},
{"x":683,"y":551,"p":0.03},{"x":688,"y":561,"p":0.05},{"x":689,"y":565,"p":0.03},{"x":697,"y":570,"p":0.03},{"x":702,"y":574,"p":0.03},{"x":711,"y":579,"p":0.03},{"x":708,"y":575,"p":0.03},{"x":680,"y":544,"p":0.03},{"x":685,"y":548,"p":0.03},
{"x":553,"y":681,"p":0.05},{"x":556,"y":678,"p":0.05},{"x":549,"y":676,"p":0.05},{"x":559,"y":682,"p":0.05},{"x":570,"y":695,"p":0.03},{"x":571,"y":700,"p":0.03},{"x":578,"y":700,"p":0.03},{"x":577,"y":706,"p":0.05},{"x":573,"y":690,"p":0.03},{"x":580,"y":706,"p":0.05}
]},
"mark":{"type":"circle","size":340,"opacity":1},
"encoding":{
"x":{"field":"x","type":"quantitative","scale":{"domain":[-28.8,779.4],"nice":false,"zero":false},"axis":{"title":"residue index","values":[0,200,400,600],"domain":false,"grid":false,"tickColor":"#000000","tickSize":9,"tickWidth":3.5,"labelFont":"Liberation Sans","labelFontWeight":"bold","labelFontSize":60,"labelColor":"#000000","labelPadding":2,"labelFlush":false,"titleFont":"Liberation Sans","titleFontWeight":"bold","titleFontSize":60,"titleColor":"#000000","titlePadding":9}},
"y":{"field":"y","type":"quantitative","scale":{"domain":[-28.8,779],"nice":false,"zero":false},"axis":{"title":"residue index","values":[0,200,400,600],"domain":false,"grid":false,"tickColor":"#000000","tickSize":9,"tickWidth":3.5,"labelAngle":-90,"labelAlign":"center","labelBaseline":"bottom","labelFont":"Liberation Sans","labelFontWeight":"bold","labelFontSize":60,"labelColor":"#000000","labelPadding":26,"labelFlush":false,"titleFont":"Liberation Sans","titleFontWeight":"bold","titleFontSize":60,"titleColor":"#000000","titlePadding":10}},
"color":{"field":"p","type":"quantitative","scale":{"domain":[0,1],"range":["#e2e2e2","#111111"]},"legend":null}
}}
